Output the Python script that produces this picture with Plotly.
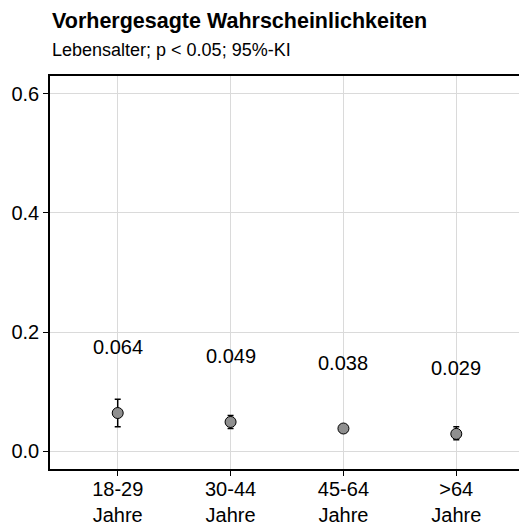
import plotly.graph_objects as go

categories = ["18-29<br>Jahre", "30-44<br>Jahre", "45-64<br>Jahre", ">64<br>Jahre"]
predicted = [0.064, 0.049, 0.038, 0.029]
ci_low = [0.041, 0.038, 0.033, 0.019]
ci_high = [0.087, 0.060, 0.043, 0.041]
labels = ["0.064", "0.049", "0.038", "0.029"]
y_ticks = [0.0, 0.2, 0.4, 0.6]
y_ticktext = ["0.0", "0.2", "0.4", "0.6"]

FONT = "Liberation Sans, Arial, sans-serif"
x_idx = list(range(len(categories)))

fig = go.Figure()
fig.add_trace(go.Scatter(
    x=x_idx, y=predicted, mode="markers",
    marker=dict(size=11, color="#8f8f8f", line=dict(color="black", width=1)),
    error_y=dict(type="data", symmetric=False,
                 array=[h - p for h, p in zip(ci_high, predicted)],
                 arrayminus=[p - l for p, l in zip(predicted, ci_low)],
                 color="black", thickness=1.5, width=3),
    showlegend=False, hoverinfo="skip",
))

annotations = []
for xi, v, t in zip(x_idx, predicted, labels):
    annotations.append(dict(x=xi, y=v, xref="x", yref="y", text=t, showarrow=False,
                            yshift=66, yanchor="middle", xanchor="center",
                            font=dict(family=FONT, size=20, color="black")))

annotations.append(dict(x=0, y=1.14, xref="paper", yref="paper",
                        text="<b>Vorhergesagte Wahrscheinlichkeiten</b>",
                        showarrow=False, xanchor="left", yanchor="middle",
                        font=dict(family=FONT, size=21.5, color="black")))
annotations.append(dict(x=0, y=1.066, xref="paper", yref="paper",
                        text="Lebensalter; p < 0.05; 95%-KI",
                        showarrow=False, xanchor="left", yanchor="middle",
                        font=dict(family=FONT, size=18, color="black")))

fig.update_layout(
    width=524, height=525,
    margin=dict(l=50, r=0, t=76, b=56, autoexpand=False),
    paper_bgcolor="white", plot_bgcolor="white",
    annotations=annotations,
    xaxis=dict(range=[-0.6, 3.6], tickmode="array", tickvals=x_idx, ticktext=categories,
               showgrid=True, gridcolor="#dadada", gridwidth=1,
               showline=True, linecolor="black", linewidth=1.5, mirror=True,
               ticks="outside", ticklen=5, tickcolor="black", tickwidth=1,
               ticklabelstandoff=-4,
               tickfont=dict(family=FONT, size=20, color="black"), zeroline=False),
    yaxis=dict(range=[-0.03, 0.63], tickmode="array", tickvals=y_ticks, ticktext=y_ticktext,
               showgrid=True, gridcolor="#dadada", gridwidth=1,
               showline=True, linecolor="black", linewidth=1.5, mirror=False,
               ticks="outside", ticklen=5, tickcolor="black", tickwidth=1,
               tickfont=dict(family=FONT, size=20, color="black"), zeroline=False),
)

fig.write_html("out.html", config={"displayModeBar": False},
               post_script="document.body.style.margin='0';document.documentElement.style.overflow='hidden';document.body.style.overflow='hidden';")
